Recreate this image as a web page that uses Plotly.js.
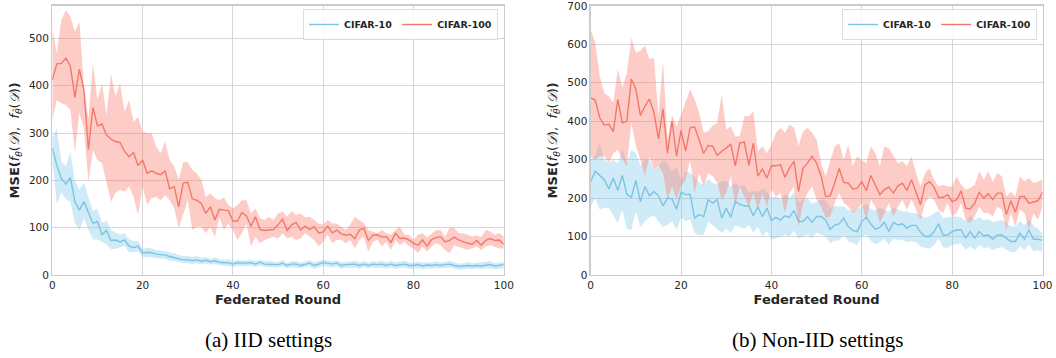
<!DOCTYPE html>
<html>
<head>
<meta charset="utf-8">
<script src="https://cdn.plot.ly/plotly-3.0.1.min.js"></script>
<style>html,body{margin:0;padding:0;background:#fff;}#chart{width:1056px;height:358px;}</style>
</head>
<body>
<div id="chart"></div>
<script>
// Federated rounds
const rounds = Array.from({length: 101}, (_, i) => i);

// (a) IID settings
const iidC10Mean = [268,232,204,192,206,155,137,155,132,109,
 113,85,94,73,74,70,74,61,58,61,
 46,48,47,44,43,42,39,37,35,32,
 32,30,32,29,31,28,30,27,26,26,
 23,26,25,25,26,23,27,23,23,22,
 22,25,20,23,23,20,23,25,20,23,
 26,25,23,25,20,22,22,23,20,23,
 20,23,22,23,20,23,20,22,23,20,
 20,22,19,21,20,22,20,22,23,20,
 18,19,20,19,20,19,20,22,19,20,22];
const iidC10Upper = [290,310,240,230,260,200,180,195,165,135,
 140,110,115,95,90,85,88,75,72,72,
 55,58,56,53,52,50,48,46,42,40,
 40,38,40,36,38,34,37,33,32,33,
 29,32,31,30,33,29,32,29,30,28,
 28,31,26,29,30,26,29,31,27,30,
 32,31,29,31,27,28,28,30,27,29,
 26,29,28,30,27,30,27,28,30,27,
 26,28,26,27,27,29,26,28,30,27,
 24,25,27,25,26,26,27,29,25,27,28];
const iidC10Lower = [240,150,175,160,155,110,95,120,95,75,
 75,70,65,55,55,58,62,48,48,50,
 38,38,38,36,35,34,30,29,28,25,
 25,23,25,22,24,22,23,21,19,19,
 17,19,18,19,19,17,20,17,17,16,
 16,18,14,17,16,14,17,18,13,16,
 19,18,16,18,13,16,15,16,13,17,
 14,16,15,16,13,16,13,15,16,13,
 13,15,12,14,13,15,14,15,16,13,
 11,12,13,12,14,12,13,15,12,13,15];
const iidC100Mean = [412,446,447,458,441,375,435,391,265,354,
 315,319,296,287,282,280,261,250,259,231,
 243,215,220,215,212,220,182,187,144,194,
 196,161,158,151,130,144,116,139,137,136,
 114,114,132,125,103,123,96,94,95,96,
 106,118,94,106,111,95,103,96,102,89,
 91,103,89,95,87,84,86,77,95,99,
 73,84,85,80,81,69,88,77,78,74,
 67,63,74,61,75,79,81,70,73,80,
 74,70,67,65,73,63,73,77,73,74,65];
const iidC100Upper = [521,468,539,560,546,514,535,400,330,447,
 370,405,338,425,377,405,345,370,324,334,
 303,300,300,271,257,282,243,229,201,239,
 239,222,215,201,165,172,162,158,164,148,
 141,148,158,158,130,141,120,116,123,116,
 130,134,123,135,127,130,122,123,116,109,
 106,116,109,109,102,95,106,123,116,110,
 95,92,88,95,88,85,95,102,85,85,
 74,85,88,80,88,95,95,81,100,100,
 88,88,85,81,84,80,95,92,85,89,81];
const iidC100Lower = [327,370,363,359,349,260,342,310,197,264,
 243,236,194,155,173,180,176,187,165,127,
 187,148,162,165,158,169,158,141,99,130,
 158,95,102,102,88,102,81,123,95,109,
 95,74,88,109,60,81,67,74,77,81,
 77,88,77,81,74,77,88,81,74,60,
 70,85,67,74,74,67,74,56,74,81,
 49,70,74,60,70,53,74,63,70,60,
 56,46,60,49,60,67,63,53,46,63,
 60,56,53,56,60,53,60,63,60,56,56];

// (b) Non-IID settings
const niidC10Mean = [243,270,259,248,224,252,220,259,210,202,
 246,191,230,206,217,206,180,200,198,171,
 215,209,210,148,157,152,196,187,196,148,
 174,150,191,184,180,180,154,177,152,174,
 142,150,143,154,150,168,139,139,152,137,
 152,152,143,119,130,133,148,126,116,113,
 139,150,133,119,124,137,113,137,130,133,
 122,129,129,111,100,100,113,133,104,104,
 113,117,117,96,113,96,113,102,104,93,
 104,104,96,87,87,109,93,117,93,93,90];
const niidC10Upper = [300,309,345,300,291,300,290,330,290,326,
 317,285,300,300,275,280,300,290,270,280,
 248,270,265,255,240,235,250,240,235,245,
 245,230,240,230,235,213,220,215,225,215,
 200,205,196,210,200,215,190,195,200,185,
 190,196,196,175,180,178,178,170,165,170,
 178,185,172,168,175,170,165,175,170,165,
 165,161,161,155,150,152,160,168,148,150,
 152,152,150,140,155,143,150,143,145,138,
 140,143,135,126,126,140,130,145,128,120,109];
const niidC10Lower = [178,200,170,175,175,155,135,170,120,117,
 165,125,140,150,155,140,125,130,140,117,
 150,140,145,109,104,105,140,130,120,109,
 120,110,130,125,120,130,110,125,100,115,
 91,95,100,105,100,115,95,100,105,95,
 110,105,100,83,90,90,105,88,83,78,
 100,105,90,80,85,95,78,95,90,92,
 85,88,85,74,70,68,78,95,72,70,
 78,80,82,65,75,65,78,70,72,65,
 70,72,65,60,60,75,65,80,62,65,60];
const niidC100Mean = [461,455,409,390,392,373,457,396,400,510,
 483,415,439,458,422,354,432,317,400,309,
 376,322,383,385,352,316,337,335,311,322,
 330,341,284,343,346,285,343,257,276,252,
 284,284,287,254,278,296,217,278,291,309,
 291,257,204,206,239,277,241,239,224,226,
 243,219,259,235,209,222,229,213,232,239,
 220,248,217,183,235,243,228,202,202,209,
 191,196,219,174,172,187,215,200,211,196,
 213,213,157,193,163,204,204,186,190,193,215];
const niidC100Upper = [639,604,517,474,465,448,535,487,526,617,
 578,583,596,561,565,413,557,352,417,387,
 417,452,483,457,422,370,374,389,396,470,
 378,387,361,361,413,413,426,322,335,317,
 339,370,383,370,391,383,335,374,383,370,
 352,291,257,296,335,343,300,339,283,309,
 300,291,335,317,283,335,330,309,291,296,
 283,309,265,230,265,278,248,230,235,230,
 230,257,235,222,226,235,270,248,270,243,
 265,257,204,217,204,257,243,252,239,243,248];
const niidC100Lower = [309,300,309,309,291,317,326,300,283,396,
 335,300,257,309,274,283,265,196,230,196,
 230,248,300,213,265,230,265,257,239,196,
 213,257,178,230,204,178,213,170,213,178,
 222,204,213,161,213,230,126,187,213,230,
 196,178,148,152,187,213,187,178,161,170,
 187,143,196,178,135,161,187,152,178,196,
 170,196,170,143,187,204,196,170,161,187,
 152,161,187,143,135,152,178,161,161,152,
 178,170,117,161,126,170,161,117,161,143,178];

const seriesNames = ['CIFAR-10', 'CIFAR-100'];
const xTicks = [0, 20, 40, 60, 80, 100];
const iidYTicks = [0, 100, 200, 300, 400, 500];
const niidYTicks = [0, 100, 200, 300, 400, 500, 600, 700];
const xTitle = 'Federated Round';
const yTitle = '<b>MSE(</b><i>f</i><sub><i>θ</i></sub>(<i>𝒟</i>),  <i>f</i><sub><i>θ̂</i></sub>(<i>𝒟</i>)<b>)</b>';
const captions = ['(a) IID settings', '(b) Non-IID settings'];

const blueLine = '#7cc4e4';
const blueFill = 'rgba(135,206,235,0.4)';
const redLine = '#f4786a';
const redFill = 'rgba(250,128,114,0.4)';

function band(x, up, lo, color, xa, ya) {
  return {
    x: x.concat(x.slice().reverse()),
    y: up.concat(lo.slice().reverse()),
    type: 'scatter', mode: 'lines', fill: 'toself', fillcolor: color,
    line: {width: 0}, hoverinfo: 'skip', showlegend: false, xaxis: xa, yaxis: ya
  };
}
function line(x, y, color, name, xa, ya, leg) {
  return {x: x, y: y, type: 'scatter', mode: 'lines', name: name,
    line: {color: color, width: 1.4}, xaxis: xa, yaxis: ya, legend: leg};
}

const data = [
  band(rounds, iidC10Upper, iidC10Lower, blueFill, 'x', 'y'),
  line(rounds, iidC10Mean, blueLine, seriesNames[0], 'x', 'y', 'legend'),
  band(rounds, iidC100Upper, iidC100Lower, redFill, 'x', 'y'),
  line(rounds, iidC100Mean, redLine, seriesNames[1], 'x', 'y', 'legend'),
  band(rounds, niidC10Upper, niidC10Lower, blueFill, 'x2', 'y2'),
  line(rounds, niidC10Mean, blueLine, seriesNames[0], 'x2', 'y2', 'legend2'),
  band(rounds, niidC100Upper, niidC100Lower, redFill, 'x2', 'y2'),
  line(rounds, niidC100Mean, redLine, seriesNames[1], 'x2', 'y2', 'legend2')
];

const W = 1056, H = 358;
const tickFont = {family: 'DejaVu Sans', size: 10.5, color: '#262626'};
const titleFont = {family: 'DejaVu Sans', size: 13, color: '#262626'};
function xax(domain, anchor) {
  return {domain: domain, anchor: anchor, range: [0, 100], tickvals: xTicks,
    showgrid: true, gridcolor: '#d6d6d6', gridwidth: 1, zeroline: false,
    showline: true, linecolor: '#cccccc', linewidth: 1.25, mirror: true,
    ticks: '', tickfont: tickFont, ticklabeloverflow: 'allow',
    title: {text: '<b>' + xTitle + '</b>', font: titleFont, standoff: 5}};
}
function yax(domain, anchor, range, ticks) {
  return {domain: domain, anchor: anchor, range: range, tickvals: ticks,
    showgrid: true, gridcolor: '#d6d6d6', gridwidth: 1, zeroline: false,
    showline: true, linecolor: '#cccccc', linewidth: 1.25, mirror: true,
    ticks: '', tickfont: tickFont, ticklabeloverflow: 'allow',
    title: {text: yTitle, font: titleFont, standoff: 6}};
}
const yDom = [1 - 275 / H, 1 - 5.7 / H];
const legendBase = {orientation: 'h', yanchor: 'top', xanchor: 'right', y: 1 - 9 / H,
  bgcolor: 'rgba(255,255,255,0.85)', bordercolor: '#dddddd', borderwidth: 1,
  font: {family: 'DejaVu Sans', size: 9.5, color: '#262626', weight: 'bold'},
  itemwidth: 30, tracegroupgap: 0};

const layout = {
  width: W, height: H,
  margin: {l: 0, r: 0, t: 0, b: 0},
  paper_bgcolor: '#ffffff', plot_bgcolor: '#ffffff',
  font: {family: 'DejaVu Sans', color: '#262626'},
  xaxis: xax([52.3 / W, 503.8 / W], 'y'),
  yaxis: yax(yDom, 'x', [0, 569], iidYTicks),
  xaxis2: xax([590.7 / W, 1042.5 / W], 'y2'),
  yaxis2: yax(yDom, 'x2', [0, 700.5], niidYTicks),
  legend: Object.assign({}, legendBase, {x: 498 / W}),
  legend2: Object.assign({}, legendBase, {x: 1037 / W}),
  annotations: [
    {text: captions[0], xref: 'paper', yref: 'paper', x: 268 / W, y: 1 - 340 / H,
      xanchor: 'center', yanchor: 'middle', showarrow: false,
      font: {family: 'Liberation Serif', size: 21, color: '#000000'}},
    {text: captions[1], xref: 'paper', yref: 'paper', x: 817 / W, y: 1 - 340 / H,
      xanchor: 'center', yanchor: 'middle', showarrow: false,
      font: {family: 'Liberation Serif', size: 21, color: '#000000'}}
  ],
  showlegend: true
};

Plotly.newPlot('chart', data, layout, {displayModeBar: false, staticPlot: true});
</script>
</body>
</html>
